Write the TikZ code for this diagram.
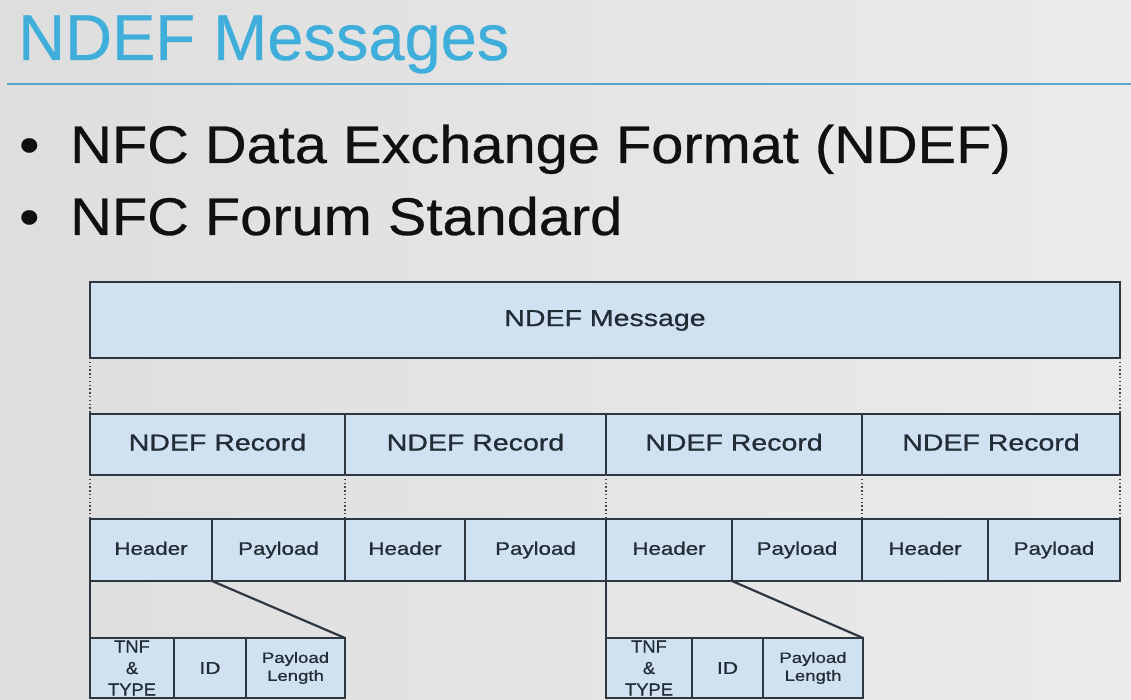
\documentclass[tikz,border=0pt]{standalone}
\usepackage{fontspec}
\setmainfont{Liberation Sans}
\newfontfamily\titlefont[FakeBold=0.4]{Liberation Sans}
\newfontfamily\bulletfont[FakeStretch=1.09,FakeBold=0.5]{Liberation Sans}
\newfontfamily\diagfont[FakeStretch=1.24,FakeBold=0.9]{Liberation Sans}
\newfontfamily\subfont[FakeStretch=1.05,FakeBold=0.9]{Liberation Sans}
\definecolor{titleblue}{HTML}{3FAEDA}
\definecolor{ruleblue}{HTML}{5CA4C8}
\definecolor{cellfill}{HTML}{D0E1F2}
\definecolor{celledge}{HTML}{2E373F}
\definecolor{celltext}{HTML}{222C35}
\definecolor{bodytext}{HTML}{101010}
\tikzset{
  cell/.style={rectangle, draw=celledge, line width=2.2pt, fill=cellfill,
    inner sep=0pt, outer sep=0pt, text=celltext, align=center},
  bigcell/.style={cell, font=\diagfont\fontsize{23}{27}\selectfont,
    text height=16.5pt, text depth=4.5pt},
  midcell/.style={cell, font=\diagfont\fontsize{18}{21}\selectfont,
    text height=13pt, text depth=3.5pt},
  dotlink/.style={draw=gray!55!black, line width=1.5pt, dash pattern=on 1.4pt off 2.4pt},
  zoomlink/.style={draw=celledge, line width=2.2pt},
}
\begin{document}
\begin{tikzpicture}[x=1pt, y=-1pt]
  \useasboundingbox (0,0) rectangle (1131,700);
  % slide background
  \shade[left color=gray!26, middle color=gray!3, right color=gray!16]
    (0,0) rectangle (1131,700);

  % title and rule
  \node[anchor=base west, inner sep=0pt, text=titleblue,
        font=\titlefont\fontsize{65}{78}\selectfont] (title) at (18,60) {NDEF Messages};
  \draw[ruleblue, line width=2pt] (7,84) -- (1131,84);

  % bullet points
  \node[anchor=base west, inner sep=0pt, text=bodytext,
        font=\bulletfont\fontsize{53}{64}\selectfont] (b1dot) at (19,163) {•};
  \node[anchor=base west, inner sep=0pt, text=bodytext,
        font=\bulletfont\fontsize{53}{64}\selectfont] (b1) at (70,163) {NFC Data Exchange Format (NDEF)};
  \node[anchor=base west, inner sep=0pt, text=bodytext,
        font=\bulletfont\fontsize{53}{64}\selectfont] (b2dot) at (19,235) {•};
  \node[anchor=base west, inner sep=0pt, text=bodytext,
        font=\bulletfont\fontsize{53}{64}\selectfont] (b2) at (70,235) {NFC Forum Standard};

  % message
  \node[bigcell, minimum width=1030pt, minimum height=76pt] (msg) at (605,320) {NDEF Message};

  % records
  \node[bigcell, minimum width=255pt, minimum height=61pt] (r1) at (217.5,444.5) {NDEF Record};
  \node[bigcell, minimum width=261pt, minimum height=61pt] (r2) at (475.5,444.5) {NDEF Record};
  \node[bigcell, minimum width=256pt, minimum height=61pt] (r3) at (734,444.5) {NDEF Record};
  \node[bigcell, minimum width=258pt, minimum height=61pt] (r4) at (991,444.5) {NDEF Record};

  % header and payload of each record
  \node[midcell, minimum width=122pt, minimum height=62pt] (h1) at (151,550) {Header};
  \node[midcell, minimum width=133pt, minimum height=62pt] (p1) at (278.5,550) {Payload};
  \node[midcell, minimum width=120pt, minimum height=62pt] (h2) at (405,550) {Header};
  \node[midcell, minimum width=141pt, minimum height=62pt] (p2) at (535.5,550) {Payload};
  \node[midcell, minimum width=126pt, minimum height=62pt] (h3) at (669,550) {Header};
  \node[midcell, minimum width=130pt, minimum height=62pt] (p3) at (797,550) {Payload};
  \node[midcell, minimum width=126pt, minimum height=62pt] (h4) at (925,550) {Header};
  \node[midcell, minimum width=132pt, minimum height=62pt] (p4) at (1054,550) {Payload};

  % header fields of the first record
  \node[cell, minimum width=84pt, minimum height=60pt,
        font=\subfont\fontsize{17.5}{21.5}\selectfont] (t1) at (132,668) {TNF\\\&\\TYPE};
  \node[cell, minimum width=72pt, minimum height=60pt,
        font=\diagfont\fontsize{17}{20}\selectfont] (i1) at (210,668) {ID};
  \node[cell, minimum width=99pt, minimum height=60pt,
        font=\diagfont\fontsize{15}{18}\selectfont] (l1) at (295.5,668) {Payload\\Length};

  % header fields of the third record
  \node[cell, minimum width=86pt, minimum height=60pt,
        font=\subfont\fontsize{17.5}{21.5}\selectfont] (t3) at (649,668) {TNF\\\&\\TYPE};
  \node[cell, minimum width=71pt, minimum height=60pt,
        font=\diagfont\fontsize{17}{20}\selectfont] (i3) at (727.5,668) {ID};
  \node[cell, minimum width=100pt, minimum height=60pt,
        font=\diagfont\fontsize{15}{18}\selectfont] (l3) at (813,668) {Payload\\Length};

  % dotted guides between levels
  \draw[dotlink] (msg.south west) -- (r1.north west);
  \draw[dotlink] (msg.south east) -- (r4.north east);
  \draw[dotlink] (r1.south west) -- (h1.north west);
  \draw[dotlink] (r1.south east) -- (p1.north east);
  \draw[dotlink] (r2.south east) -- (p2.north east);
  \draw[dotlink] (r3.south east) -- (p3.north east);
  \draw[dotlink] (r4.south east) -- (p4.north east);

  % expansion of the headers
  \draw[zoomlink] (h1.south west) -- (t1.north west);
  \draw[zoomlink] (h1.south east) -- (l1.north east);
  \draw[zoomlink] (h3.south west) -- (t3.north west);
  \draw[zoomlink] (h3.south east) -- (l3.north east);
\end{tikzpicture}
\end{document}
